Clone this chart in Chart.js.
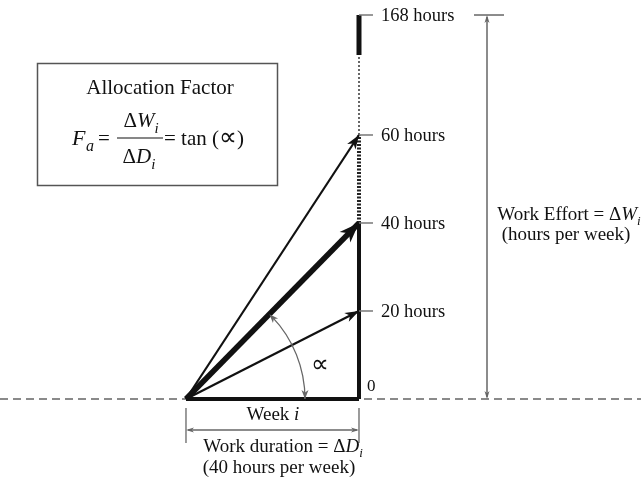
<!DOCTYPE html>
<html>
<head>
<meta charset="utf-8">
<title>Allocation Factor</title>
<script src="https://cdn.jsdelivr.net/npm/chart.js@4.4.1/dist/chart.umd.min.js"></script>
<style>
    html, body { margin: 0; padding: 0; background: #fff; }
    canvas { display: block; }
</style>
</head>
<body>
<canvas id="diagram" width="641" height="477"></canvas>
<script>
// ---- data (hours) ----
const weekHours = 40;                       // one week of work duration
const effortHours = [20, 40, 60];           // work effort arrows
const mainEffort = 40;                      // the highlighted (thick) arrow
const tickHours = [0, 20, 40, 60, 168];
const tickLabels = ['0', '20 hours', '40 hours', '60 hours', '168 hours'];
const solidTop = 40;                        // axis drawn solid up to here
const denseTop = 60;                        // then dense dashes up to here
const breakHours = 132;                     // dotted up to here, solid again to the top
const maxHours = 168;                       // hours in a week

// the axis above 60 hours is compressed (not to scale)
const LOW_LIMIT = 60;
const HIGH_SCALE = 0.2525;
function axisY(h) {
    return h <= LOW_LIMIT ? h : LOW_LIMIT + (h - LOW_LIMIT) * HIGH_SCALE;
}

const FONT = '"Liberation Serif", "Times New Roman", serif';
const INK = '#111';
const GREY = '#666';

function seg(x0, h0, x1, h1) {
    return [{x: x0, y: axisY(h0)}, {x: x1, y: axisY(h1)}];
}

function lineSet(data, width, color, dash) {
    return {
        data: data,
        showLine: true,
        borderColor: color,
        borderWidth: width,
        borderDash: dash || [],
        borderCapStyle: 'butt',
        pointRadius: 0,
        fill: false
    };
}

function arrowHead(ctx, x0, y0, x1, y1, len, wid, color) {
    const a = Math.atan2(y1 - y0, x1 - x0);
    ctx.save();
    ctx.translate(x1, y1);
    ctx.rotate(a);
    ctx.beginPath();
    ctx.moveTo(0, 0);
    ctx.lineTo(-len, -wid / 2);
    ctx.lineTo(-len * 0.72, 0);
    ctx.lineTo(-len, wid / 2);
    ctx.closePath();
    ctx.fillStyle = color;
    ctx.fill();
    ctx.restore();
}

function line(ctx, x0, y0, x1, y1, width, color) {
    ctx.beginPath();
    ctx.moveTo(x0, y0);
    ctx.lineTo(x1, y1);
    ctx.lineWidth = width;
    ctx.strokeStyle = color;
    ctx.setLineDash([]);
    ctx.stroke();
}

// draws a run of [text, style] pieces; style: 'n' normal, 'it' italic, 'sub' italic subscript, 'big' larger symbol
function runs(ctx, pieces, x, y, size, align) {
    const fontOf = s => s === 'n' ? `${size}px ${FONT}` :
        s === 'big' ? `${Math.round(size * 1.2)}px ${FONT}` :
        s === 'it' ? `italic ${size}px ${FONT}` : `italic ${Math.round(size * 0.7)}px ${FONT}`;
    let total = 0;
    pieces.forEach(p => { ctx.font = fontOf(p[1]); total += ctx.measureText(p[0]).width; });
    let cx = align === 'center' ? x - total / 2 : x;
    ctx.textAlign = 'left';
    ctx.textBaseline = 'alphabetic';
    ctx.fillStyle = INK;
    pieces.forEach(p => {
        ctx.font = fontOf(p[1]);
        const dy = p[1] === 'sub' ? size * 0.28 : 0;
        ctx.fillText(p[0], cx, y + dy);
        cx += ctx.measureText(p[0]).width;
    });
}

const annotations = {
    id: 'annotations',
    afterDatasetsDraw(chart) {
        const ctx = chart.ctx;
        const xs = chart.scales.x, ys = chart.scales.y;
        const px = v => xs.getPixelForValue(v);
        const py = h => ys.getPixelForValue(axisY(h));
        const ox = px(0), oy = py(0);
        const ax = px(weekHours);

        ctx.save();

        // arrowheads on the effort vectors
        effortHours.forEach(h => {
            const big = h === mainEffort;
            arrowHead(ctx, ox, oy, ax, py(h), big ? 20 : 14, big ? 15 : 10, INK);
        });

        // angle arc with arrows at both ends
        const theta = Math.atan2(oy - py(mainEffort), ax - ox);
        const r = 119;
        ctx.beginPath();
        ctx.arc(ox, oy, r, -theta + 0.03, 0);
        ctx.lineWidth = 1.3;
        ctx.strokeStyle = GREY;
        ctx.setLineDash([]);
        ctx.stroke();
        arrowHead(ctx, ox + r, oy - 12, ox + r, oy, 9, 7, GREY);
        const tx = ox + r * Math.cos(-theta), ty = oy + r * Math.sin(-theta);
        arrowHead(ctx, ox + r * Math.cos(-theta + 0.1), oy + r * Math.sin(-theta + 0.1), tx, ty, 9, 7, GREY);
        ctx.font = `25px ${FONT}`;
        ctx.fillStyle = INK;
        ctx.textAlign = 'center';
        ctx.textBaseline = 'middle';
        ctx.fillText('\u221D', ox + 134, oy - 34);

        // ticks and labels on the effort axis
        tickHours.forEach((h, i) => {
            const y = py(h);
            if (h === 0) {
                ctx.font = `17px ${FONT}`;
                ctx.fillStyle = INK;
                ctx.textAlign = 'left';
                ctx.textBaseline = 'middle';
                ctx.fillText(tickLabels[i], ax + 8, y - 12);
                return;
            }
            line(ctx, ax, y, ax + 14, y, 1.5, '#777');
            ctx.font = `18.5px ${FONT}`;
            ctx.fillStyle = INK;
            ctx.textAlign = 'left';
            ctx.textBaseline = 'middle';
            ctx.fillText(tickLabels[i], ax + 22, y + 1);
        });

        // right dimension: work effort
        const dx = 487, topY = py(maxHours);
        line(ctx, dx, topY + 2, dx, oy - 2, 1.5, GREY);
        line(ctx, dx - 13, topY, dx + 17, topY, 1.5, GREY);
        arrowHead(ctx, dx, topY + 10, dx, topY, 8, 5, GREY);
        arrowHead(ctx, dx, oy - 10, dx, oy, 8, 5, GREY);
        runs(ctx, [['Work Effort = \u0394', 'n'], ['W', 'it'], ['i', 'sub']], 569, 220, 19, 'center');
        runs(ctx, [['(hours per week)', 'n']], 566, 240, 19, 'center');

        // bottom dimension: work duration
        const dimY = oy + 31;
        line(ctx, ox, oy + 9, ox, oy + 44, 1.3, GREY);
        line(ctx, ax, oy + 9, ax, oy + 44, 1.3, GREY);
        line(ctx, ox + 2, dimY, ax - 2, dimY, 1.3, GREY);
        arrowHead(ctx, ox + 10, dimY, ox, dimY, 8, 5, GREY);
        arrowHead(ctx, ax - 10, dimY, ax, dimY, 8, 5, GREY);
        runs(ctx, [['Week ', 'n'], ['i', 'it']], 273, oy + 21, 19, 'center');
        runs(ctx, [['Work duration = \u0394', 'n'], ['D', 'it'], ['i', 'sub']], 283, oy + 53, 19, 'center');
        runs(ctx, [['(40 hours per week)', 'n']], 279, oy + 74, 19, 'center');

        // formula box
        ctx.fillStyle = '#fff';
        ctx.fillRect(37, 63, 240, 122);
        ctx.lineWidth = 1.5;
        ctx.strokeStyle = '#555';
        ctx.setLineDash([]);
        ctx.strokeRect(37.5, 63.5, 240, 122);
        runs(ctx, [['Allocation Factor', 'n']], 160, 94, 21, 'center');
        runs(ctx, [['F', 'it']], 72, 145, 22, 'left');
        runs(ctx, [['a', 'it']], 86, 151, 16, 'left');
        runs(ctx, [['=', 'n']], 98, 145, 21, 'left');
        runs(ctx, [['\u0394', 'n'], ['W', 'it'], ['i', 'sub']], 141, 127, 21, 'center');
        line(ctx, 117, 138, 163, 138, 1.2, INK);
        runs(ctx, [['\u0394', 'n'], ['D', 'it'], ['i', 'sub']], 139, 163, 21, 'center');
        runs(ctx, [['= tan (', 'n'], ['\u221D', 'big'], [')', 'n']], 164, 145, 21, 'left');

        ctx.restore();
    }
};

const xMin = -43.0, xMax = 105.2;
const yMin = -17.73, yMax = 90.68;

const datasets = [
    // effort vectors from the start of the week
    ...effortHours.map(h => lineSet(seg(0, 0, weekHours, h), h === mainEffort ? 5.5 : 2.2, INK)),
    // effort axis at the end of the week
    lineSet(seg(weekHours, 0, weekHours, solidTop), 4, INK),
    lineSet(seg(weekHours, solidTop, weekHours, denseTop), 4, '#222', [2, 1.5]),
    lineSet(seg(weekHours, denseTop, weekHours, breakHours), 2, '#666', [2, 2]),
    lineSet(seg(weekHours, breakHours, weekHours, maxHours), 5, INK),
    // the week itself
    lineSet(seg(0, 0, weekHours, 0), 4, INK),
    // time line through the week
    lineSet(seg(xMin, 0, xMax, 0), 2, '#8a8a8a', [8, 5])
];

new Chart(document.getElementById('diagram'), {
    type: 'scatter',
    data: { datasets: datasets },
    options: {
        responsive: false,
        animation: false,
        events: [],
        devicePixelRatio: 1,
        layout: { padding: 0 },
        plugins: {
            legend: { display: false },
            tooltip: { enabled: false }
        },
        scales: {
            x: { type: 'linear', display: false, min: xMin, max: xMax },
            y: { type: 'linear', display: false, min: yMin, max: yMax }
        }
    },
    plugins: [annotations]
});
</script>
</body>
</html>
